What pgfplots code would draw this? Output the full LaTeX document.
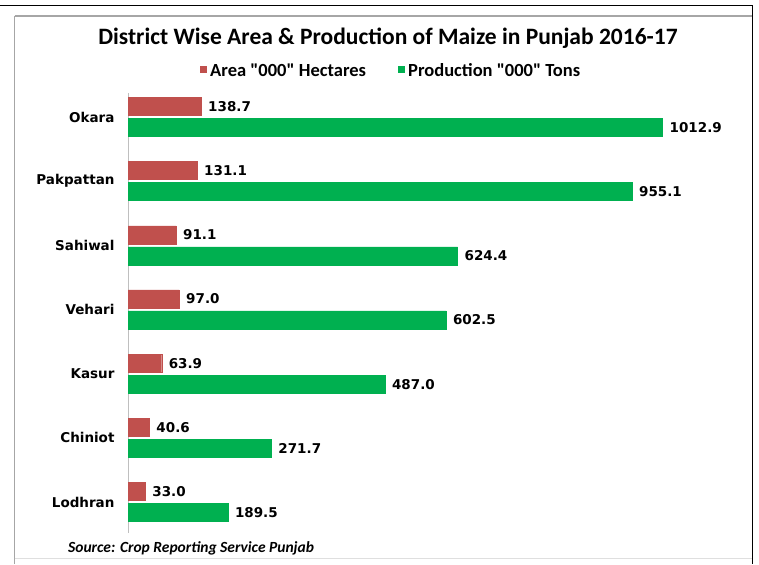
\documentclass[border=0pt]{standalone}
\usepackage{pgfplots}
\pgfplotsset{compat=1.18}
\usepackage{fontspec}
\setmainfont{Carlito}[Ligatures=TeXOff]
\newfontfamily\labfont{DejaVu Sans}
\definecolor{myred}{HTML}{C0504D}
\definecolor{mygreen}{HTML}{00B050}
\definecolor{axgray}{HTML}{BFBFBF}
\begin{document}
\begin{tikzpicture}
\useasboundingbox (0pt,0pt) rectangle (759pt,564pt);
% frames
\draw[line width=1.3pt, gray!70] (14.5pt,0pt) -- (14.5pt,548pt);
\draw[line width=1.3pt, gray!70] (14.5pt,548pt) -- (752pt,548pt);
\draw[line width=0.6pt, gray!25] (14.5pt,6pt) -- (752pt,6pt);
\draw[line width=1.5pt, black] (0pt,558.5pt) -- (752.5pt,558.5pt) -- (752.5pt,0pt);
\begin{axis}[
  at={(128pt,31pt)}, anchor=south west,
  scale only axis, width=607pt, height=440pt,
  xbar, xmin=0, xmax=1150,
  ymin=-0.483, ymax=6.374,
  bar width=18pt,
  hide x axis,
  axis y line*=left,
  y axis line style={draw=axgray, line width=1pt, -},
  ytick={0,...,6},
  yticklabels={Lodhran,Chiniot,Kasur,Vehari,Sahiwal,Pakpattan,Okara},
  major tick length=0pt,
  yticklabel style={font=\labfont\bfseries\fontsize{13.5}{15}\selectfont, xshift=-10pt},
  nodes near coords,
  nodes near coords style={font=\labfont\bfseries\fontsize{13.5}{15}\selectfont, anchor=west, xshift=3.5pt,
    /pgf/number format/.cd, fixed, fixed zerofill, precision=1, set thousands separator={}, assume math mode=true},
  point meta=x,
]
\addplot[fill=myred, draw=myred, bar shift=10.5pt] coordinates {
(138.7,6) (131.1,5) (91.1,4) (97.0,3) (63.9,2) (40.6,1) (33.0,0)};
\addplot[fill=mygreen, draw=mygreen, bar shift=-10.5pt] coordinates {
(1012.9,6) (955.1,5) (624.4,4) (602.5,3) (487.0,2) (271.7,1) (189.5,0)};
\end{axis}
\node[font=\bfseries\fontsize{23.5}{28}\selectfont] at (388pt,526pt) {District Wise Area \& Production of Maize in Punjab 2016-17};
\fill[myred] (200pt,490.5pt) rectangle (207pt,497.5pt);
\node[font=\bfseries\fontsize{18.5}{22}\selectfont, anchor=west, inner sep=0pt] at (210pt,494pt) {Area "000" Hectares};
\fill[mygreen] (398pt,490.5pt) rectangle (405pt,497.5pt);
\node[font=\bfseries\fontsize{18.5}{22}\selectfont, anchor=west, inner sep=0pt] at (408pt,494pt) {Production "000" Tons};
\node[font=\bfseries\itshape\fontsize{15.5}{18}\selectfont, anchor=west, inner sep=0pt] at (68pt,16pt) {Source: Crop Reporting Service Punjab};
\end{tikzpicture}
\end{document}
